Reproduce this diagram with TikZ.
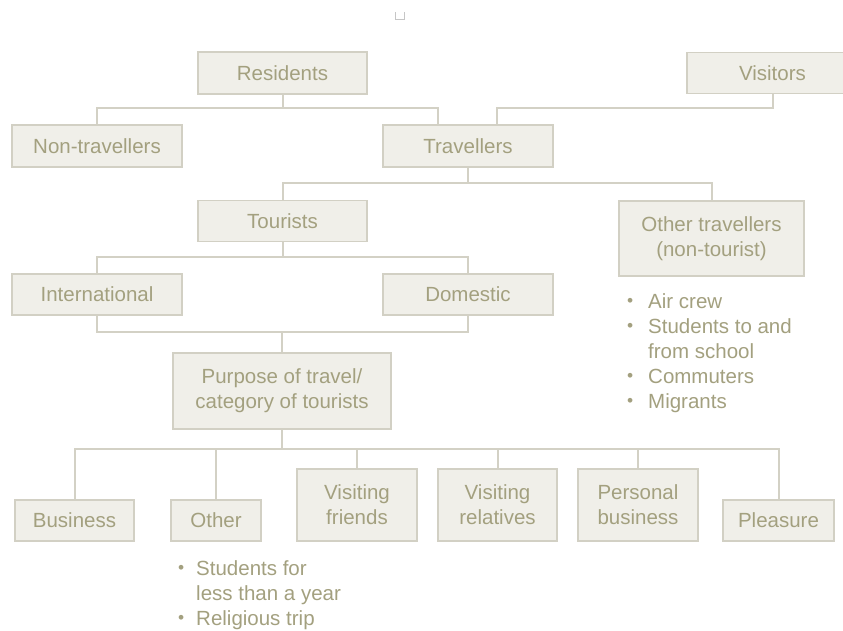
\documentclass[tikz,border=0pt]{standalone}
\usepackage{fontspec}
\setmainfont{Liberation Sans}
\usetikzlibrary{calc}
\definecolor{boxfill}{HTML}{F0EFE9}
\definecolor{boxedge}{HTML}{D2D0C4}
\definecolor{linkcol}{HTML}{D3D1C5}
\definecolor{inkcol}{HTML}{A3A07F}
\tikzset{
  x=1pt, y=-1pt,
  box/.style={draw=boxedge, fill=boxfill, line width=1.6pt, inner sep=0pt,
    text=inkcol, align=center, font=\fontsize{20.5}{25}\selectfont},
  conn/.style={draw=linkcol, line width=2pt},
  notes/.style={anchor=north west, inner sep=0pt, text=inkcol, align=left,
    font=\fontsize{20.5}{25}\selectfont},
}
\newcommand{\bul}[1]{\makebox[#1][l]{\raisebox{0.15ex}{\scalebox{0.85}{•}}}}
\begin{document}
\begin{tikzpicture}
\useasboundingbox (0,0) rectangle (843,630);
\clip (0,0) rectangle (843,630);
\fill[white] (0,0) rectangle (843,630);

% small mark at the top
\draw[draw=gray!45, line width=1pt] (395,12) -- (395,19) -- (404,19) -- (404,12);

% boxes
\node[box, minimum width=169pt, minimum height=42pt] (res) at (282.5,73) {Residents};
\node[box, minimum width=171pt, minimum height=41pt] (vis) at (772.5,73) {Visitors};
\node[box, minimum width=170pt, minimum height=42pt] (nontrav) at (97,146) {Non-travellers};
\node[box, minimum width=170pt, minimum height=42pt] (trav) at (468,146) {Travellers};
\node[box, minimum width=169pt, minimum height=41pt] (tour) at (282.5,221) {Tourists};
\node[box, minimum width=185pt, minimum height=75pt] (other) at (711.5,238.5) {Other travellers\\(non-tourist)};
\node[box, minimum width=170pt, minimum height=41pt] (intl) at (97,294.5) {International};
\node[box, minimum width=170pt, minimum height=41pt] (dom) at (468,294.5) {Domestic};
\node[box, minimum width=218pt, minimum height=76pt] (purp) at (282,391) {Purpose of travel/\\category of tourists};
\node[box, minimum width=119pt, minimum height=41pt] (bus) at (74.5,520.5) {Business};
\node[box, minimum width=90pt, minimum height=41pt] (oth) at (216,520.5) {Other};
\node[box, minimum width=120pt, minimum height=72pt] (vf) at (357,505) {Visiting\\friends};
\node[box, minimum width=119pt, minimum height=72pt] (vr) at (497.5,505) {Visiting\\relatives};
\node[box, minimum width=120pt, minimum height=72pt] (pb) at (638,505) {Personal\\business};
\node[box, minimum width=111pt, minimum height=41pt] (pl) at (778.5,520.5) {Pleasure};

% bar levels and offset attachment points
\coordinate (b1) at (0,108);
\coordinate (b2) at (0,183);
\coordinate (b3) at (0,257);
\coordinate (b4) at (0,332);
\coordinate (b5) at (0,449);
\coordinate (tl) at ($(trav.north)+(-30,0)$);
\coordinate (tr) at ($(trav.north)+(29,0)$);

% residents
\draw[conn] (res.south) -- (res.south |- b1);
\draw[conn] (nontrav.north) -- (nontrav.north |- b1) -- (tl |- b1) -- (tl);
% visitors
\draw[conn] (vis.south) -- (vis.south |- b1) -- (tr |- b1) -- (tr);
% travellers
\draw[conn] (trav.south) -- (trav.south |- b2);
\draw[conn] (tour.north) -- (tour.north |- b2) -- (other.north |- b2) -- (other.north);
% tourists
\draw[conn] (tour.south) -- (tour.south |- b3);
\draw[conn] (intl.north) -- (intl.north |- b3) -- (dom.north |- b3) -- (dom.north);
% international / domestic
\draw[conn] (intl.south) -- (intl.south |- b4) -- (dom.south |- b4) -- (dom.south);
\draw[conn] (purp.north) -- (purp.north |- b4);
% purpose
\draw[conn] (purp.south) -- (purp.south |- b5);
\draw[conn] (bus.north) -- (bus.north |- b5) -- (pl.north |- b5) -- (pl.north);
\draw[conn] (oth.north) -- (oth.north |- b5);
\draw[conn] (vf.north) -- (vf.north |- b5);
\draw[conn] (vr.north) -- (vr.north |- b5);
\draw[conn] (pb.north) -- (pb.north |- b5);

% bullet notes
\node[notes] (othernotes) at (627,293) {%
  \bul{21pt}Air crew\\
  \bul{21pt}Students to and\\
  \hspace*{21pt}from school\\
  \bul{21pt}Commuters\\
  \bul{21pt}Migrants};
\node[notes] (othnotes) at (178,560) {%
  \bul{18pt}Students for\\
  \hspace*{18pt}less than a year\\
  \bul{18pt}Religious trip};
\end{tikzpicture}
\end{document}
